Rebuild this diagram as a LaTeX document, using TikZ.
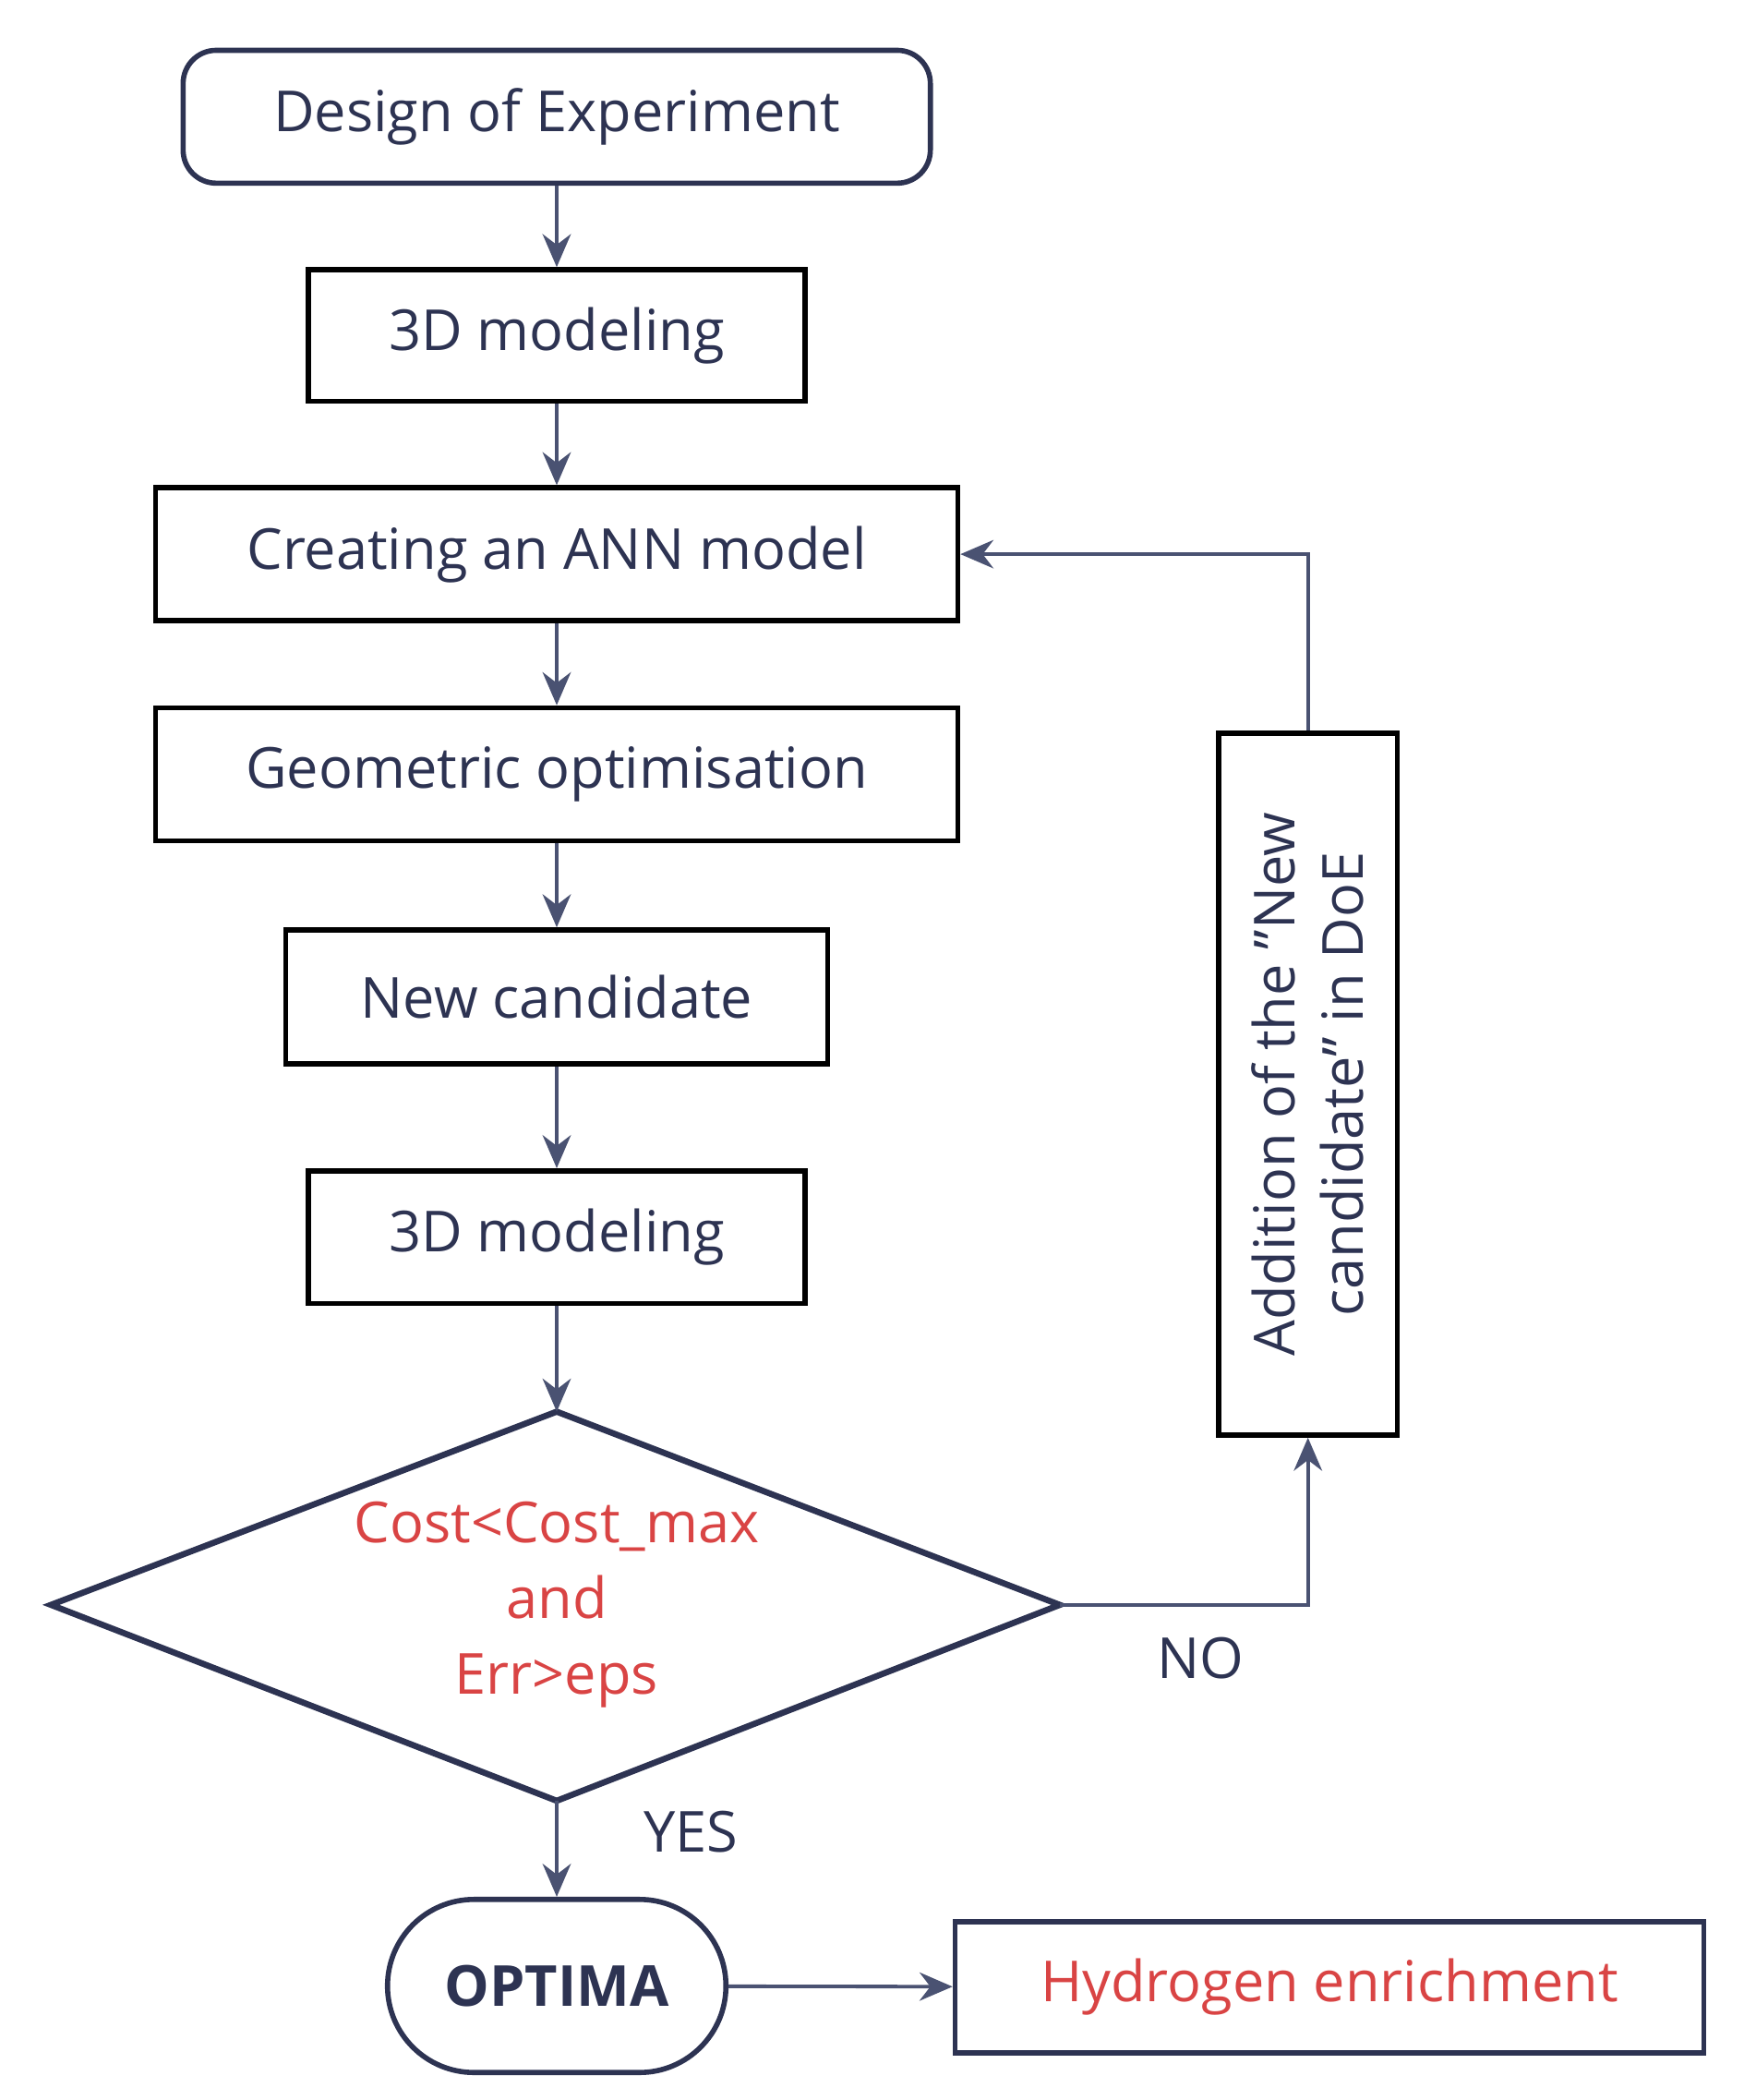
\documentclass[tikz,border=0pt]{standalone}
\usepackage{fontspec}
\setmainfont{Open Sans}
\usetikzlibrary{arrows.meta,shapes.misc}
\definecolor{navy}{HTML}{2D3352}
\definecolor{ln}{HTML}{4A5272}
\definecolor{rd}{HTML}{D94444}
\begin{document}
\begin{tikzpicture}[x=0.02cm,y=-0.02cm,
  box/.style={draw=black,line width=2.2pt,inner sep=0,text=navy,font=\fontsize{24}{29}\selectfont},
  arr/.style={draw=ln,line width=1.5pt,-{Stealth[length=14pt,width=12pt]}},
  lab/.style={text=navy,font=\fontsize{24}{29}\selectfont}]
\useasboundingbox (0,0) rectangle (1300,1565);
\node[box,draw=navy,rounded corners=14pt,minimum width=557*0.02cm,minimum height=99*0.02cm] (doe) at (415,87) {Design of Experiment};
\node[box,minimum width=370*0.02cm,minimum height=98*0.02cm] (m1) at (415,250) {3D modeling};
\node[box,minimum width=598*0.02cm,minimum height=99*0.02cm] (ann) at (415,413) {Creating an ANN model};
\node[box,minimum width=598*0.02cm,minimum height=99*0.02cm] (geo) at (415,577) {Geometric optimisation};
\node[box,minimum width=404*0.02cm,minimum height=100*0.02cm] (nc) at (415,743) {New candidate};
\node[box,minimum width=370*0.02cm,minimum height=99*0.02cm] (m2) at (415,922) {3D modeling};
\coordinate (dt) at (415,1052); \coordinate (dr) at (790,1196);
\coordinate (db) at (415,1342); \coordinate (dl) at (38,1196);
\draw[navy,line width=2.6pt,line join=miter] (dt)--(dr)--(db)--(dl)--cycle;
\node[text=rd,align=center,font=\fontsize{24}{32}\selectfont] (dtext) at (415,1196) {Cost<Cost\_max\\and\\Err>eps};
\node[draw=navy,line width=2.2pt,rounded rectangle,minimum width=264*0.02cm,minimum height=129*0.02cm,text=navy,font=\bfseries\fontsize{24}{29}\selectfont] (opt) at (415,1480) {OPTIMA};
\node[box,draw=navy,minimum width=558*0.02cm,minimum height=98*0.02cm,text=rd] (hyd) at (991,1481) {Hydrogen enrichment};
\node[box,minimum width=133*0.02cm,minimum height=523*0.02cm] (side) at (975,808) {};
\node[lab,rotate=90,align=center] (sidet) at (975,808) {Addition of the \symbol{34}New\\candidate\symbol{34} in DoE};
\node[lab] (no) at (895,1236) {NO};
\node[lab] (yes) at (515,1365) {YES};
\draw[arr] (doe)--(m1);
\draw[arr] (m1)--(ann);
\draw[arr] (ann)--(geo);
\draw[arr] (geo)--(nc);
\draw[arr] (nc)--(m2);
\draw[arr] (m2)--(dt);
\draw[arr] (db)--(opt);
\draw[arr] (opt)--(hyd);
\draw[arr] (dr)-|(side.south);
\draw[arr] (side.north)|-(ann.east);
\end{tikzpicture}
\end{document}
